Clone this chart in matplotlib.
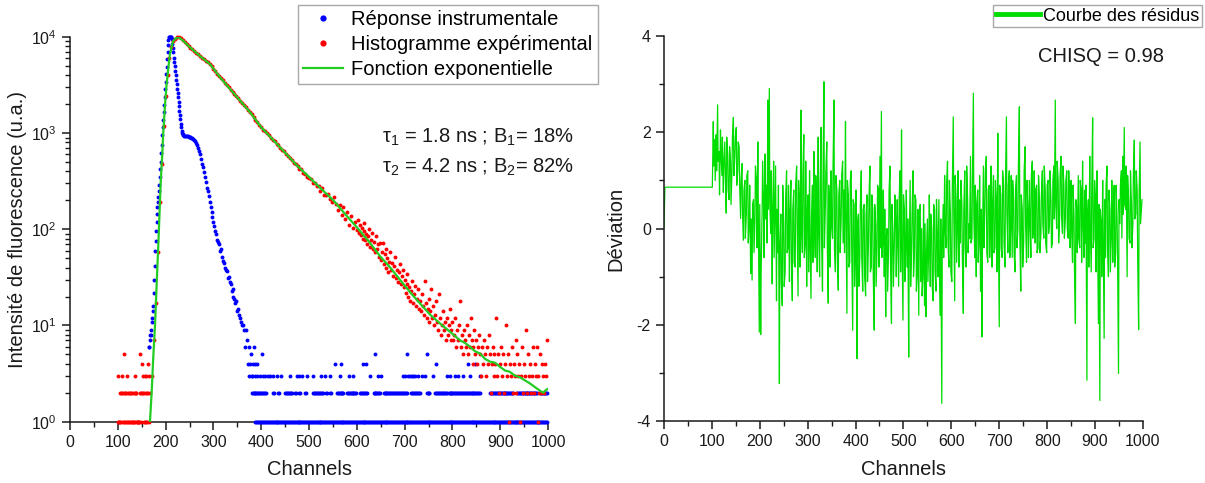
import matplotlib
matplotlib.use("Agg")
import matplotlib.pyplot as plt
from matplotlib.lines import Line2D
from matplotlib.ticker import LogLocator, MultipleLocator, NullFormatter
import numpy as np

plt.rcParams["font.family"] = ["Liberation Sans", "DejaVu Sans"]
plt.rcParams["mathtext.fontset"] = "custom"
plt.rcParams["mathtext.rm"] = "Liberation Sans"
plt.rcParams["mathtext.it"] = "Liberation Sans:italic"
plt.rcParams["mathtext.bf"] = "Liberation Sans:bold"
plt.rcParams["mathtext.default"] = "regular"
plt.rcParams["axes.unicode_minus"] = False

COLOR_IRF = "#0000ff"
COLOR_DECAY = "#ff0000"
COLOR_FIT = "#22cc22"
COLOR_RESID = "#00dd00"
COLOR_FRAME = "#a8a8a8"
COLOR_TEXT = "#1a1a1a"

# --- Reponse instrumentale (IRF): front montant + decroissance ---
irf_channels = list(range(165, 239)) + list(range(240, 386, 2))
irf_counts = [
    6, 6, 7, 8, 8, 9, 11, 12, 14, 16,
    22, 30, 42, 60, 75, 95, 120, 145, 170, 190,
    215, 250, 290, 350, 420, 500, 620, 760, 950, 1150,
    1380, 1650, 1950, 2350, 2850, 3400, 4100, 4900, 5900, 7000,
    8300, 9400, 9900, 10000, 10000, 10000, 9950, 9900, 9500, 8420,
    7700, 6900, 6100, 5500, 5000, 4450, 4000, 3600, 3240, 2900,
    2600, 2350, 2100, 1900, 1710, 1550, 1400, 1245, 1150, 1060,
    1000, 970, 950, 940,
    942, 935, 930, 925, 920, 915, 905, 890, 880, 871,
    850, 820, 790, 750, 700, 650, 608, 540, 480, 440,
    390, 348, 310, 270, 250, 220, 190, 170, 150, 134,
    120, 108, 96, 90, 78, 74, 70, 60, 62, 52,
    47, 45, 40, 38, 37, 31, 32, 28, 27, 23,
    24, 20, 19, 17, 18, 14, 15, 13, 12, 11,
    10, 10, 9, 6, 9, 7, 4, 6, 4, 5,
    3, 4, 6,
]

# IRF: bruit de fond (comptes entiers), canaux par niveau
irf_level5_channels = [401, 638, 705, 746]
irf_level4_channels = [388, 392, 554, 567, 612, 619, 766, 833, 847]
irf_level3_channels = [375, 380, 387, 392, 397, 403, 408, 415, 418, 424, 434, 441,
                       460, 474, 480, 485, 495, 509, 526, 533, 543, 565, 584, 593,
                       628, 645, 650, 697, 701, 708, 711, 715, 718, 722, 729, 736,
                       743, 760, 788, 795, 805, 812, 822, 836, 857]
irf_level2_spans = [(380, 410), (424, 426), (435, 437), (450, 464), (470, 472),
                    (480, 482), (491, 493), (509, 530), (536, 538), (543, 545),
                    (558, 572), (579, 600), (607, 621), (635, 650), (656, 704),
                    (714, 732), (746, 753), (764, 788), (792, 858), (879, 928),
                    (935, 977), (983, 998)]
irf_level1_spans = [(388, 998)]

# --- Histogramme experimental ---
# avant le front (canaux 100..166)
decay_pre_channels = list(range(100, 167))
decay_pre_counts = [
    1, 3, 1, 1, 1, 2, 1, 2, 3, 2,
    1, 2, 1, 5, 2, 1, 2, 1, 2, 3,
    1, 2, 1, 2, 1, 1, 2, 1, 2, 1,
    2, 1, 1, 2, 1, 2, 3, 1, 2, 2,
    1, 1, 1, 1, 1, 1, 5, 2, 1, 2,
    4, 2, 3, 2, 1, 2, 1, 3, 2, 1,
    3, 2, 1, 2, 4, 1, 3,
]
# front + decroissance (canaux 168..596, pas de 4)
decay_channels = list(range(168, 600, 4))
decay_counts = [
    2, 3, 7, 17, 58, 190, 480, 1200, 2450, 4050,
    6050, 7800, 9050, 9600, 9900, 9950, 9650, 9200, 8850, 8480,
    8090, 7760, 7420, 7120, 6870, 6590, 6310, 6090, 5840, 5620,
    5440, 5230, 4930, 4680, 4440, 4160, 3930, 3700, 3540, 3330,
    3170, 3000, 2830, 2690, 2530, 2420, 2300, 2180, 2060, 1950,
    1850, 1740, 1660, 1570, 1460, 1370, 1290, 1210, 1160, 1090,
    1060, 1000, 950, 900, 845, 830, 770, 750, 700, 660,
    650, 600, 585, 545, 530, 490, 480, 450, 425, 420,
    385, 380, 350, 345, 330, 305, 300, 280, 285, 250,
    270, 228, 225, 232, 205, 190, 215, 185, 160, 178,
    140, 172, 128, 150, 112, 138, 104, 118,
]
# queue (canaux 600..998, pas de 2)
decay_tail_channels = list(range(600, 1000, 2))
decay_tail_counts = [
    98, 125, 92, 110, 88, 104, 80, 96, 115, 78,
    90, 70, 86, 100, 66, 78, 92, 62, 74, 58,
    85, 63, 70, 52, 72, 48, 58, 72, 44, 55,
    62, 40, 50, 36, 46, 58, 38, 45, 33, 42,
    52, 31, 38, 28, 36, 44, 27, 33, 38, 25,
    30, 22, 27, 34, 20, 25, 18, 23, 29, 17,
    21, 26, 16, 19, 24, 15, 18, 14, 21, 16,
    13, 29, 17, 12, 15, 19, 11, 14, 24, 12,
    16, 10, 13, 18, 11, 9, 21, 12, 8, 10,
    14, 9, 11, 7, 12, 8, 10, 15, 7, 9,
    11, 7, 8, 12, 6, 9, 7, 10, 18, 6,
    8, 5, 9, 7, 6, 10, 5, 8, 6, 12,
    7, 4, 6, 9, 5, 7, 4, 6, 8, 5,
    3, 6, 4, 7, 5, 3, 6, 4, 8, 5,
    2, 4, 6, 3, 5, 4, 12, 3, 5, 2,
    4, 6, 3, 5, 2, 4, 10, 3, 5, 1,
    4, 3, 6, 2, 4, 3, 7, 2, 5, 3,
    4, 1, 3, 6, 2, 4, 3, 9, 2, 5,
    3, 4, 2, 3, 6, 2, 4, 3, 6, 1,
    3, 2, 5, 2, 4, 3, 2, 4, 3, 7,
]

# --- Fonction exponentielle (ajustement) ---
fit_channels = [167, 171, 174, 178, 181, 185, 190, 193, 195, 199, 202, 206, 209,
                213, 216, 222, 227, 237, 251, 272, 293, 314, 335, 356, 377, 400,
                425, 452, 475, 500, 525, 551, 575, 600, 625, 648, 670, 690, 712,
                732, 753, 774, 795, 816, 826, 837, 847, 858, 868, 879, 889, 900,
                910, 920, 931, 941, 951, 962, 972, 983, 990, 994, 1000]
fit_counts = [0.95, 2.1, 4.5, 10.5, 25, 75, 330, 600, 1000, 2050, 3200, 4900, 6600,
              8100, 9100, 9700, 10000, 9100, 7800, 6330, 5200, 3800, 2870, 2170, 1640, 1150,
              850, 610, 460, 350, 265, 200, 145, 105, 75, 53, 40, 30, 22,
              17, 13, 10.5, 8.6, 7.0, 6.6, 6.0, 5.4, 5.1, 4.5, 4.2, 4.1, 3.7,
              3.4, 3.3, 3.0, 2.9, 2.7, 2.5, 2.3, 2.1, 2.0, 2.1, 2.2]

# --- Courbe des residus ---
resid_head_channels = [0, 2]
resid_head_values = [0.0, 0.86]
# canaux 100, 103, ... 997
resid_channels_a = list(range(100, 1000, 3))
resid_values_a = [
    0.86, 2.22, 1.85, 1.95, 2.57, 1.6, 2.05, 1.1, 0.75, 1.8,
    0.32, 1.55, 0.6, 1.4, 1.2, 2.31, 1.5, 2.1, 1.2, 1.7,
    0.21, 1.35, -0.24, 1.0, 0.3, 1.2, 0.1, -0.93, -1.07, 0.6,
    0.2, 1.0, 1.8, -2.15, -2.2, 0.4, 0.45, 1.55, 0.9, 2.67,
    2.91, -0.1, -1.15, 1.4, 0.6, -1.5, -0.5, -3.22, 0.3, -1.6,
    0.1, -0.9, 1.2, -0.4, -1.1, 1.0, -1.5, 0.8, -0.8, 1.3,
    -1.4, 0.5, 2.46, -0.5, 1.95, -0.3, -1.2, 0.7, 1.2, -1.45,
    0.9, 1.6, -0.6, 0.3, 1.9, -1.0, 2.1, -1.3, 3.05, 0.5,
    1.8, -1.55, 0.4, 1.2, -0.2, 2.67, -0.9, 0.8, -1.28, 1.0,
    0.2, 1.4, 0.8, 2.22, -1.76, 0.7, -0.7, 1.2, -2.11, 0.5,
    -0.3, -2.70, 0.3, -0.6, 1.2, -1.3, 0.5, -1.4, 0.7, -0.3,
    1.3, -0.8, 0.4, -2.11, 0.1, -0.3, 0.8, 1.5, 2.43, -0.2,
    -1.0, -1.83, 0.0, -0.4, 1.3, -1.97, -0.1, -0.3, 0.1, 0.6,
    -1.2, 1.2, 2.05, -1.9, 0.4, -0.2, -0.8, -2.67, 1.0, -0.4,
    1.2, -0.5, 0.6, -0.9, -1.8, 0.5, 0.0, -0.9, -1.6, -1.83,
    0.2, -0.3, -1.2, 0.0, -1.5, 0.4, -1.3, -0.3, 0.6, -1.8,
    -3.63, 0.5, 1.1, -0.4, 1.4, -0.8, 0.3, -1.1, 2.32, -1.5,
    0.6, 0.1, -0.8, -0.3, 0.5, -1.76, 1.2, -0.8, 0.6, 0.1,
    1.5, -0.2, 2.81, -0.6, -1.0, 0.8, -0.2, -1.3, -2.25, 1.3,
    0.4, 1.5, -0.7, 0.9, 0.2, -0.8, 1.1, -0.4, 0.5, 1.98,
    -2.04, 0.7, -0.6, 0.9, -0.8, 2.32, -0.5, 1.2, 0.1, -0.6,
    0.6, -0.9, 1.1, 0.0, 2.53, -1.3, 0.4, -0.3, 1.7, -0.7,
    0.3, 1.0, -0.6, 1.4, 0.2, -0.3, 0.9, -0.4, 0.6, -0.1,
    1.2, -0.2, 0.8, -0.5, 1.0, 0.1, 0.6, -0.3, 1.3, 2.67,
    0.0, 1.0, 0.2, 1.5, -0.1, 0.9, 0.2, 1.2, -0.2, 0.6,
    1.0, -0.7, 0.3, -1.97, 0.4, 1.1, -0.4, 0.8, 1.4, -0.6,
    -0.3, -3.15, 0.6, 1.5, -0.9, 2.3, -0.2, 0.6, 1.2, -1.97,
    -3.57, 0.1, 1.0, -2.28, -0.6, 1.3, -1.0, 0.4, -0.1, -0.7,
    0.9, -0.5, 0.2, -3.01, 0.1, 1.2, 1.5, 2.1, 0.4, -1.0,
    0.6, -0.3, 0.5, 0.1, 1.84, 0.3, 0.8, -2.1, 1.8, 0.45,
]
# canaux 101, 104, ... 998
resid_channels_b = list(range(101, 1000, 3))
resid_values_b = [
    0.86, 1.3, 1.0, 1.2, 1.4, 0.7, 1.6, 1.9, 1.3, 1.2,
    1.9, 0.8, 1.7, 0.5, 1.9, 1.1, 1.9, 0.9, 1.8, 0.9,
    1.0, 0.3, 0.8, -0.2, 1.1, -0.3, 0.9, 0.2, 0.5, -0.5,
    1.3, -0.4, 0.3, 0.5, -0.8, 1.4, -0.6, 0.2, -0.3, 0.4,
    0.5, 1.2, 0.3, -0.6, 1.3, 0.4, 0.9, -0.4, -1.1, 0.9,
    -1.2, 0.6, -0.5, 0.9, 0.3, -0.6, 0.4, -0.7, 0.9, 0.1,
    1.0, -0.8, 0.1, 1.1, -0.6, 1.4, 0.3, -0.9, -0.2, 0.2,
    -0.7, 0.2, 1.1, -0.9, 0.0, 0.9, -0.2, 1.0, -0.4, 1.2,
    -0.3, 0.9, -0.8, 0.1, 1.3, -0.4, 1.1, -0.6, 0.7, -0.5,
    1.1, -0.3, -0.5, 0.4, 1.0, -0.8, 1.0, -0.4, 0.6, -1.2,
    0.8, 0.1, -1.2, 0.5, -0.6, 0.4, -1.0, 0.3, -1.1, 0.6,
    -0.9, 0.7, -1.0, 0.5, -1.2, 0.9, -0.8, -0.4, -0.6, 0.8,
    0.4, -0.2, -1.3, 0.8, -0.7, 0.5, -1.2, 0.7, -1.0, -0.1,
    0.6, -0.9, -0.3, 0.7, -1.1, 0.8, 0.2, -0.5, -1.2, 0.3,
    -1.0, 0.7, -1.3, 0.4, 0.3, -1.1, -1.4, 0.5, 0.1, -0.6,
    -1.1, 0.7, 0.3, -1.2, 0.5, -0.9, 0.6, -1.0, -0.7, 0.2,
    -0.5, -0.6, 0.0, 0.9, -0.3, 1.0, -0.9, 0.8, 0.4, 1.1,
    -0.7, 1.2, 0.6, 1.0, -0.6, 0.4, -0.4, 1.3, -0.5, -0.2,
    -0.3, 1.0, 0.2, 0.9, 0.5, -0.7, 1.1, 0.4, -0.2, -0.4,
    1.2, -0.5, 0.8, -0.6, 1.3, 0.5, -0.5, 1.0, -0.9, 0.2,
    0.9, -0.4, 1.2, -0.3, 1.0, 0.3, 0.9, -0.6, 1.1, 1.0,
    -0.5, 0.8, -0.4, 1.3, -0.2, 0.7, -0.8, 1.2, 0.1, 1.0,
    -0.6, 0.2, 1.1, -0.2, 1.2, 0.8, -0.5, 1.1, -0.5, 0.7,
    0.1, 1.3, -0.3, 0.9, -0.1, 1.2, -0.4, 1.0, 0.2, 0.5,
    1.4, -0.3, 1.1, 0.3, 1.3, -0.2, 1.0, 0.0, 1.2, -0.4,
    0.0, 0.9, -0.8, 0.6, -0.5, -0.2, 1.0, -0.7, 0.2, 0.8,
    0.9, 0.2, -0.8, 0.1, 0.7, -0.4, 1.0, -0.9, 0.3, 0.5,
    0.4, -1.0, -0.2, 0.6, 0.9, -0.4, 0.8, -0.9, 1.0, 0.3,
    -0.8, 0.9, -0.6, 0.6, 0.9, -0.2, 0.3, 0.5, 1.3, 1.1,
    -0.2, 1.2, -0.4, 1.1, 0.2, 1.2, -0.6, 0.7, 0.1, 0.6,
]


def expand_spans(spans, step):
    """Liste des canaux couverts par des plages (debut, fin)."""
    channels = []
    for start, stop in spans:
        channels.extend(range(start, stop + 1, step))
    return channels


def style_axes(ax):
    for side in ("top", "right"):
        ax.spines[side].set_visible(False)
    for side in ("left", "bottom"):
        ax.spines[side].set_linewidth(1.1)
        ax.spines[side].set_color(COLOR_TEXT)
    ax.xaxis.set_major_locator(MultipleLocator(100))
    ax.xaxis.set_minor_locator(MultipleLocator(50))
    ax.tick_params(which="major", direction="out", length=6, width=1.1,
                   labelsize=11.5, colors=COLOR_TEXT, top=False, right=False)
    ax.tick_params(which="minor", direction="out", length=3.5, width=1.0,
                   colors=COLOR_TEXT, top=False, right=False)
    ax.set_xlim(0, 1000)
    ax.set_xlabel("Channels", fontsize=14.5, color=COLOR_TEXT)
    ax.xaxis.set_label_coords(0.5, -0.100)


fig = plt.figure(figsize=(12.05, 4.83), dpi=100)
ax1 = fig.add_axes([0.0581, 0.127, 0.3967, 0.7965])
ax2 = fig.add_axes([0.5510, 0.128, 0.3975, 0.7975])

dot = dict(linestyle="none", marker="o", markersize=2.8, markeredgewidth=0,
           clip_on=False, zorder=3)

# IRF
ax1.plot(irf_channels, irf_counts, color=COLOR_IRF, **dot)
for level, chans in ((5, irf_level5_channels), (4, irf_level4_channels),
                     (3, irf_level3_channels),
                     (2, expand_spans(irf_level2_spans, 2)),
                     (1, expand_spans(irf_level1_spans, 2))):
    ax1.plot(chans, [level] * len(chans), color=COLOR_IRF, **dot)

# histogramme
ax1.plot(decay_pre_channels, decay_pre_counts, color=COLOR_DECAY, **dot)
ax1.plot(decay_channels, decay_counts, color=COLOR_DECAY, **dot)
ax1.plot(decay_tail_channels, decay_tail_counts, color=COLOR_DECAY, **dot)

# ajustement
ax1.plot(fit_channels, fit_counts, color=COLOR_FIT, linewidth=1.6, zorder=4)

ax1.set_yscale("log")
ax1.set_ylim(1, 1e4)
ax1.yaxis.set_major_locator(LogLocator(base=10, numticks=10))
ax1.yaxis.set_minor_locator(LogLocator(base=10, subs=np.arange(2, 10), numticks=20))
ax1.yaxis.set_minor_formatter(NullFormatter())
style_axes(ax1)
ax1.set_ylabel("Intensité de fluorescence (u.a.)", fontsize=14.5, color=COLOR_TEXT)
ax1.yaxis.set_label_coords(-0.090, 0.5)

handles = [
    Line2D([], [], color=COLOR_IRF, marker="o", linestyle="none", markersize=4.5, markeredgewidth=0),
    Line2D([], [], color=COLOR_DECAY, marker="o", linestyle="none", markersize=4.5, markeredgewidth=0),
    Line2D([], [], color=COLOR_FIT, linewidth=1.6),
]
labels = ["Réponse instrumentale", "Histogramme expérimental", "Fonction exponentielle"]
fig.legend(handles, labels, loc="upper left", bbox_to_anchor=(298 / 1205, 1 - 5 / 483),
           fontsize=14.5, frameon=True, fancybox=False, edgecolor=COLOR_FRAME,
           framealpha=1, borderpad=0.25, handlelength=2.0, handletextpad=0.4,
           labelspacing=0.3, borderaxespad=0, numpoints=1)

fig.text(382 / 1205, 1 - 137 / 483, "τ$_1$ = 1.8 ns ; B$_1$= 18%",
         fontsize=14.5, va="center", ha="left", color=COLOR_TEXT)
fig.text(382 / 1205, 1 - 167 / 483, "τ$_2$ = 4.2 ns ; B$_2$= 82%",
         fontsize=14.5, va="center", ha="left", color=COLOR_TEXT)

# residus: fusion des deux grilles de canaux
resid_x = np.array(resid_channels_a + resid_channels_b)
resid_y = np.array(resid_values_a + resid_values_b)
order = np.argsort(resid_x, kind="stable")
ax2.plot(resid_head_channels + list(resid_x[order]),
         resid_head_values + list(resid_y[order]),
         color=COLOR_RESID, linewidth=0.9)
ax2.set_ylim(-4, 4)
ax2.yaxis.set_major_locator(MultipleLocator(2))
ax2.yaxis.set_minor_locator(MultipleLocator(1))
style_axes(ax2)
ax2.set_ylabel("Déviation", fontsize=14.5, color=COLOR_TEXT)
ax2.yaxis.set_label_coords(-0.081, 0.5)

fig.legend([Line2D([], [], color=COLOR_RESID, linewidth=3.5)], ["Courbe des résidus"],
           loc="upper left", bbox_to_anchor=(993 / 1205, 1 - 5 / 483),
           fontsize=13, frameon=True, fancybox=False, edgecolor=COLOR_FRAME,
           framealpha=1, borderpad=0.15, handlelength=2.45, handletextpad=0.15,
           borderaxespad=0)
fig.text(1038 / 1205, 1 - 57 / 483, "CHISQ = 0.98", fontsize=14.5, va="center",
         ha="left", color=COLOR_TEXT)

fig.savefig("out.png", dpi=100)
